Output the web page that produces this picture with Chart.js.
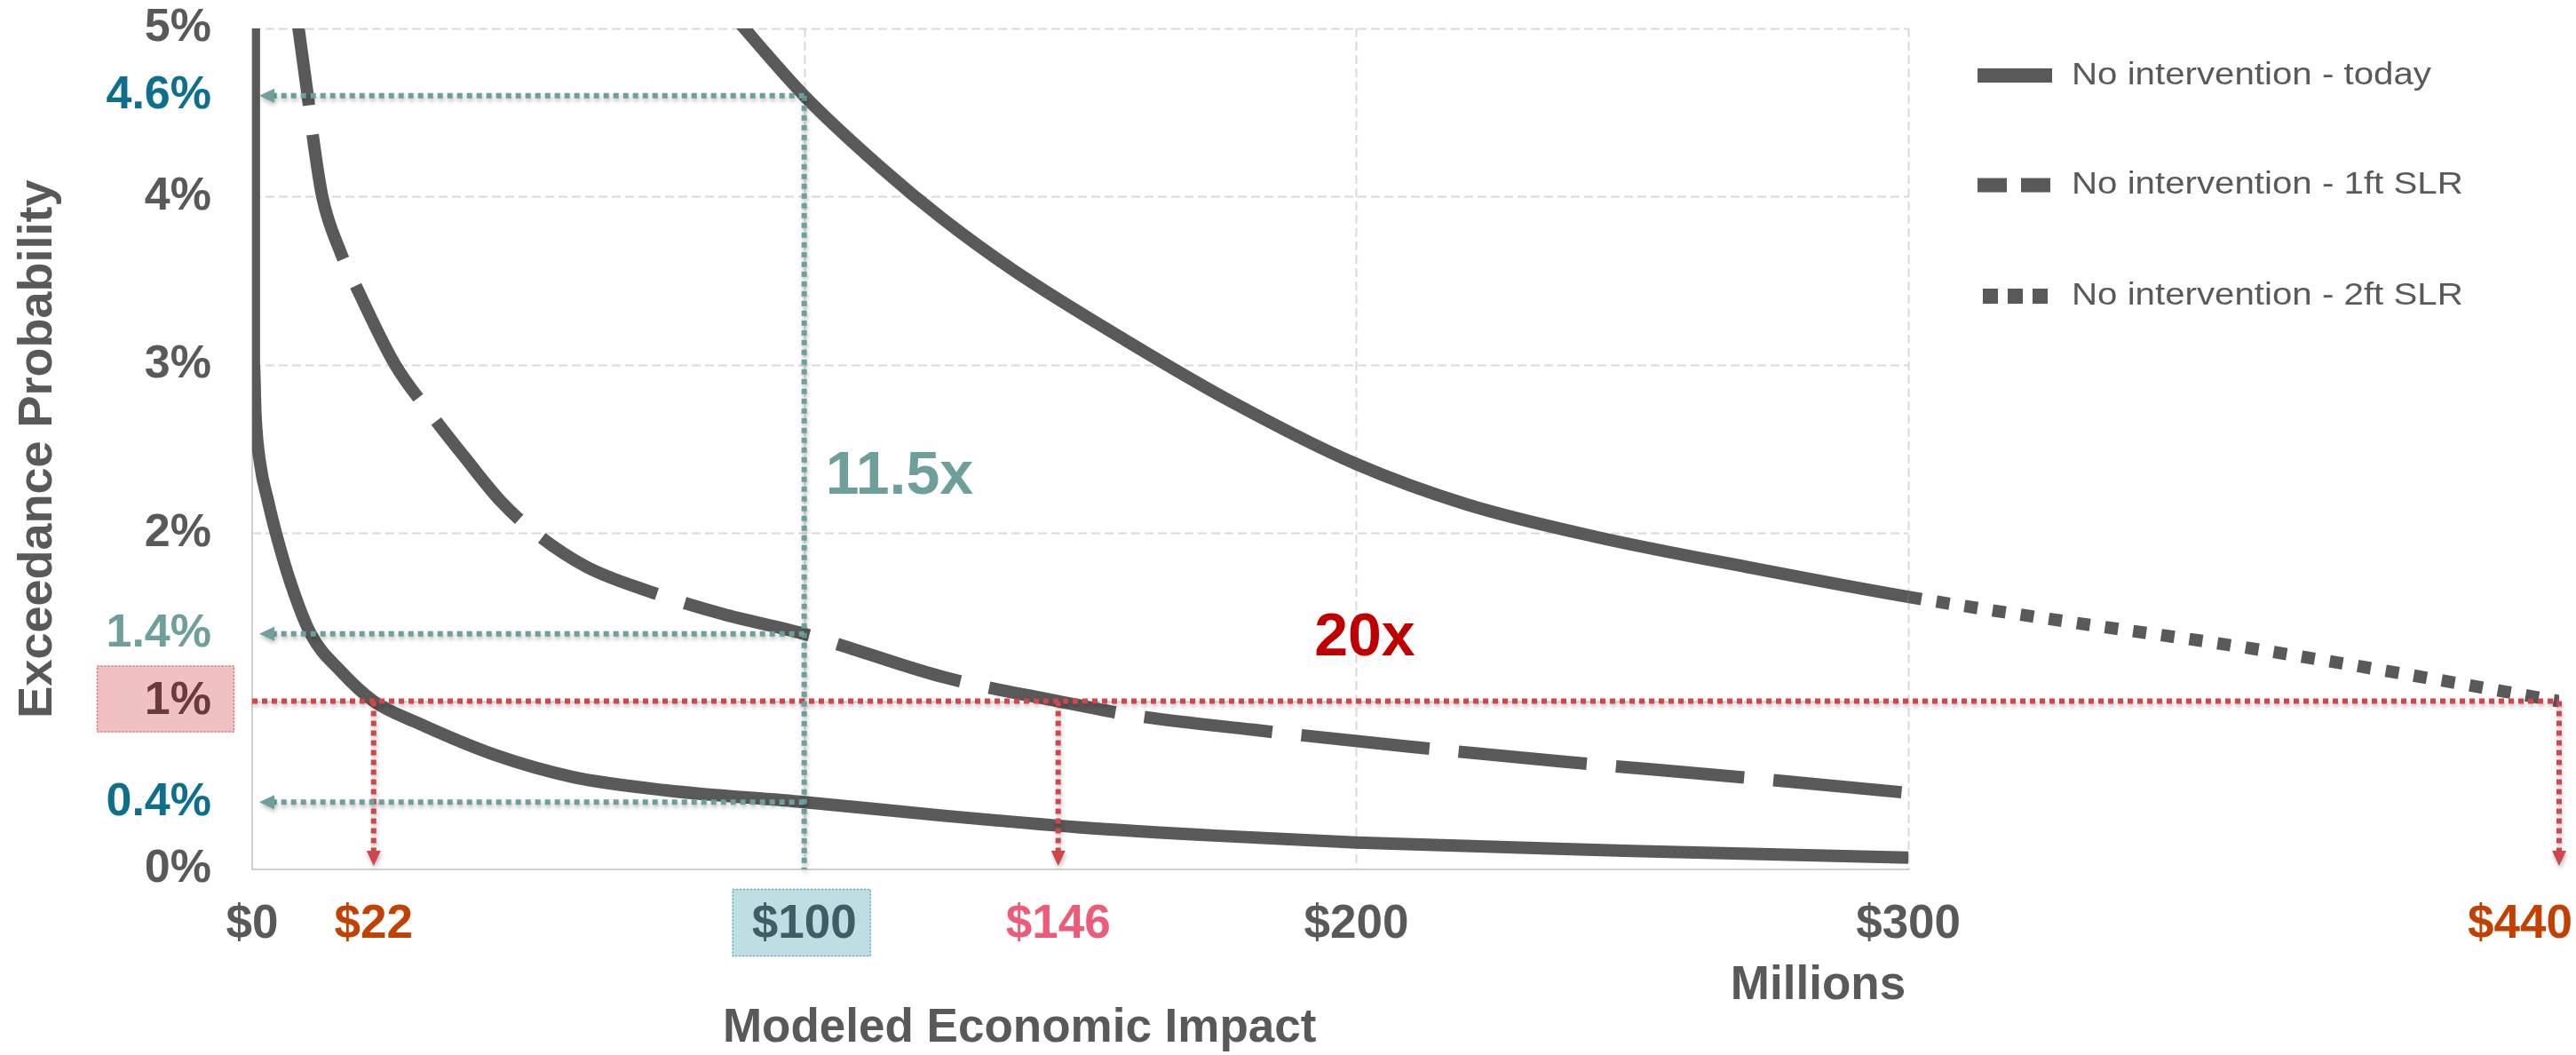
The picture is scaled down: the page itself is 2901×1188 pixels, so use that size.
<!DOCTYPE html>
<html>
<head>
<meta charset="utf-8">
<title>Exceedance probability vs modeled economic impact</title>
<script src="https://cdn.jsdelivr.net/npm/chart.js@4.4.1/dist/chart.umd.min.js"></script>
<style>
  html, body { margin: 0; padding: 0; background: #ffffff; }
  #wrap { width: 2901px; height: 1188px; }
</style>
</head>
<body>
<div id="wrap"><canvas id="chart" width="2901" height="1188"></canvas></div>
<script>
// ---- Exceedance curves: modeled impact ($M) vs annual exceedance probability (%) ----
const impactToday = [0.3, 0.3, 0.6, 1.5, 2.8, 4.3, 7, 10.6, 16, 22, 30, 44, 58, 75, 100, 125, 150, 175, 200, 250, 300];
const probToday   = [5.3, 3.0, 2.7, 2.4, 2.2, 2.0, 1.7, 1.4, 1.18, 1.0, 0.87, 0.68, 0.55, 0.47, 0.40, 0.32, 0.25, 0.20, 0.16, 0.11, 0.07];

const impact1ft = [7.2, 8.4, 10.1, 10.9, 12.7, 16.0, 18.2, 25.9, 32.3, 38.5, 45, 51.3, 60.5, 71.3, 85, 100, 106, 125.6, 146, 158.8, 181.4, 209.6, 237.7, 265.7, 300];
const prob1ft   = [5.3, 5.0, 4.59, 4.38, 4.0, 3.67, 3.51, 3.0, 2.71, 2.45, 2.19, 2.0, 1.80, 1.66, 1.52, 1.40, 1.34, 1.14, 1.0, 0.92, 0.83, 0.73, 0.64, 0.56, 0.455];

const impact2ft = [86, 100, 114, 125, 138, 158, 178, 200, 220, 243, 272, 300, 335, 370, 405, 440];
const prob2ft   = [5.12, 4.6, 4.17, 3.87, 3.56, 3.15, 2.77, 2.41, 2.17, 1.98, 1.79, 1.62, 1.47, 1.33, 1.17, 1.0];

const seriesNames = ['No intervention - today', 'No intervention - 1ft SLR', 'No intervention - 2ft SLR'];

// Axis ticks
const impactTicks = [0, 100, 200, 300];
const probTicks   = [0, 1, 2, 3, 4, 5];

// Call-outs: probabilities at a $100M loss, and losses at the 1% annual chance
const refImpact   = 100;
const probAtRef   = [4.6, 1.4, 0.4];      // 2ft SLR, 1ft SLR, today
const probLabels  = ['4.6%', '1.4%', '0.4%'];
const refProb     = 1;
const impactAtRef = [22, 146, 440];       // today, 1ft SLR, 2ft SLR
const impactLabels = ['$22', '$146', '$440'];
const ratioLabels = ['11.5x', '20x'];

// ---- styling ----
const FONT = "'Liberation Sans', Arial, Helvetica, sans-serif";
const GREY = '#595959';
const GRID = '#D9D9D9';
const AXIS = '#CFCFCF';
const TEAL_LINE = '#6E9F9B';
const TEAL_DARK = '#0E6F8C';
const RED_LINE = '#CF474C';
const ORANGE = '#C24000';
const PINK_TEXT = '#EE5B78';
const RATIO_RED = '#C00000';
const X_TICK_PAD = 36;
const Y_TICK_PAD = 46;

// Impact axis: linear up to $300M, then compressed out to $440M
const AXIS_BREAK = 300;
const BREAK_SHARE = 0.7179;

class BrokenLinearScale extends Chart.LinearScale {
  getPixelForValue(value) {
    if (value === null || value === undefined || isNaN(value)) return NaN;
    const min = this.min, max = this.max;
    const dec = value <= AXIS_BREAK
      ? (value - min) / (AXIS_BREAK - min) * BREAK_SHARE
      : BREAK_SHARE + (value - AXIS_BREAK) / (max - AXIS_BREAK) * (1 - BREAK_SHARE);
    return this.getPixelForDecimal(dec);
  }
  getValueForPixel(pixel) {
    const dec = this.getDecimalForPixel(pixel);
    return dec <= BREAK_SHARE
      ? this.min + dec / BREAK_SHARE * (AXIS_BREAK - this.min)
      : AXIS_BREAK + (dec - BREAK_SHARE) / (1 - BREAK_SHARE) * (this.max - AXIS_BREAK);
  }
}
BrokenLinearScale.id = 'brokenLinear';
BrokenLinearScale.defaults = Chart.LinearScale.defaults;
Chart.register(BrokenLinearScale);

const toPoints = (xs, ys) => xs.map((x, i) => ({ x: x, y: ys[i] }));

function dottedArrow(ctx, x1, y1, x2, y2, color, withHead) {
  const len = Math.hypot(x2 - x1, y2 - y1);
  const ux = (x2 - x1) / len, uy = (y2 - y1) / len;
  const hl = 17, hw = 8;
  const bx = x2 - ux * hl, by = y2 - uy * hl;
  ctx.save();
  ctx.shadowColor = 'rgba(0,0,0,0.28)';
  ctx.shadowBlur = 5;
  ctx.shadowOffsetX = 1;
  ctx.shadowOffsetY = 3;
  ctx.strokeStyle = color;
  ctx.lineWidth = 6;
  ctx.setLineDash([6, 5]);
  ctx.beginPath();
  ctx.moveTo(x1, y1);
  ctx.lineTo(withHead ? bx : x2, withHead ? by : y2);
  ctx.stroke();
  if (withHead) {
    ctx.setLineDash([]);
    ctx.fillStyle = color;
    ctx.beginPath();
    ctx.moveTo(x2, y2);
    ctx.lineTo(bx - uy * hw, by + ux * hw);
    ctx.lineTo(bx + uy * hw, by - ux * hw);
    ctx.closePath();
    ctx.fill();
  }
  ctx.restore();
}

function text(ctx, str, x, y, font, color, align) {
  ctx.save();
  ctx.font = font;
  ctx.fillStyle = color;
  ctx.textAlign = align || 'center';
  ctx.textBaseline = 'middle';
  ctx.fillText(str, x, y);
  ctx.restore();
}

function dottedBox(ctx, x, y, w, h, fill, stroke) {
  ctx.save();
  ctx.fillStyle = fill;
  ctx.fillRect(x, y, w, h);
  ctx.strokeStyle = stroke;
  ctx.lineWidth = 1.5;
  ctx.setLineDash([2, 2]);
  ctx.strokeRect(x + 0.5, y + 0.5, w - 1, h - 1);
  ctx.restore();
}

const decorations = {
  id: 'decorations',
  beforeDraw(chart) {
    const { ctx } = chart;
    const xs = chart.scales.x, ys = chart.scales.y;
    ctx.save();
    ctx.fillStyle = '#ffffff';
    ctx.fillRect(0, 0, chart.width, chart.height);
    ctx.restore();
    // highlight behind the 1% tick
    const y1 = ys.getPixelForValue(refProb);
    dottedBox(ctx, 109, y1 - 40, 155, 75, '#EFC1C1', '#D9777A');
    // highlight behind the $100 tick
    const x100 = xs.getPixelForValue(refImpact);
    dottedBox(ctx, x100 - 81, xs.top + 22, 156, 76, '#BFDEE4', '#6AAAB9');
  },
  beforeDatasetsDraw(chart) {
    const { ctx } = chart;
    const xs = chart.scales.x, ys = chart.scales.y;
    const left = xs.getPixelForValue(0), right = xs.getPixelForValue(AXIS_BREAK);
    const top = ys.getPixelForValue(5), bottom = ys.getPixelForValue(0);
    ctx.save();
    ctx.strokeStyle = GRID;
    ctx.lineWidth = 2;
    ctx.setLineDash([10, 5]);
    probTicks.filter(v => v > 0).forEach(v => {
      const y = Math.round(ys.getPixelForValue(v)) + 0.5;
      ctx.beginPath(); ctx.moveTo(left, y); ctx.lineTo(right, y); ctx.stroke();
    });
    impactTicks.filter(v => v > 0).forEach(v => {
      const x = Math.round(xs.getPixelForValue(v)) + 0.5;
      ctx.beginPath(); ctx.moveTo(x, top); ctx.lineTo(x, bottom); ctx.stroke();
    });
    ctx.setLineDash([]);
    ctx.strokeStyle = AXIS;
    ctx.beginPath();
    ctx.moveTo(left, top); ctx.lineTo(left, bottom); ctx.lineTo(right + 1, bottom);
    ctx.stroke();
    ctx.restore();
  },
  afterDatasetsDraw(chart) {
    const { ctx } = chart;
    const xs = chart.scales.x, ys = chart.scales.y;
    const x0 = xs.getPixelForValue(0), xRef = xs.getPixelForValue(refImpact);
    const yBase = ys.getPixelForValue(0), yRef = ys.getPixelForValue(refProb);
    // 1% annual chance line and drops to the impact axis
    dottedArrow(ctx, x0, yRef, xs.getPixelForValue(impactAtRef[2]), yRef, RED_LINE, false);
    impactAtRef.forEach(v => {
      const x = xs.getPixelForValue(v);
      dottedArrow(ctx, x, yRef, x, yBase - 4, RED_LINE, true);
    });
    // $100M line and reads across to the probability axis
    dottedArrow(ctx, xRef, ys.getPixelForValue(probAtRef[0]), xRef, yBase, TEAL_LINE, false);
    probAtRef.forEach(p => {
      const y = ys.getPixelForValue(p);
      dottedArrow(ctx, xRef, y, x0 + 8, y, TEAL_LINE, true);
    });
  },
  afterDraw(chart) {
    const { ctx } = chart;
    const xs = chart.scales.x, ys = chart.scales.y;
    const bold52 = 'bold 52px ' + FONT;
    const bold53 = 'bold 53px ' + FONT;
    const bold68 = 'bold 68px ' + FONT;
    // probability call-outs
    const yLabelX = ys.right - Y_TICK_PAD;
    const probColors = [TEAL_DARK, TEAL_LINE, TEAL_DARK];
    probAtRef.forEach((p, i) => text(ctx, probLabels[i], yLabelX, ys.getPixelForValue(p), bold52, probColors[i], 'right'));
    // impact call-outs
    const xLabelY = xs.top + X_TICK_PAD + 26.5;
    const impactColors = [ORANGE, PINK_TEXT, ORANGE];
    impactAtRef.forEach((v, i) => {
      const x = xs.getPixelForValue(v);
      ctx.save();
      ctx.font = bold53;
      const w = ctx.measureText(impactLabels[i]).width;
      ctx.restore();
      if (x + w / 2 > chart.width - 4) {
        text(ctx, impactLabels[i], chart.width - 4, xLabelY, bold53, impactColors[i], 'right');
      } else {
        text(ctx, impactLabels[i], x, xLabelY, bold53, impactColors[i], 'center');
      }
    });
    // ratios
    text(ctx, ratioLabels[0], xs.getPixelForValue(refImpact) + 24, ys.getPixelForValue(2.33), bold68, TEAL_LINE, 'left');
    text(ctx, ratioLabels[1], xs.getPixelForValue(192.4), ys.getPixelForValue(1.37), bold68, RATIO_RED, 'left');
    // axis titles
    text(ctx, 'Millions', xs.getPixelForValue(AXIS_BREAK) - 3, 1110, bold53, GREY, 'right');
    text(ctx, 'Modeled Economic Impact', xs.getPixelForValue(139), 1158, bold53, GREY, 'center');
    // legend
    const rows = [85, 208.5, 333.5];
    const lx0 = 2227, lx1 = 2311, tx = 2333;
    const dashes = [[], [33, 16], [17, 11]];
    const starts = [lx0, lx0, lx0 + 6];
    rows.forEach((y, i) => {
      ctx.save();
      ctx.strokeStyle = GREY;
      ctx.lineWidth = i === 2 ? 17 : 16;
      ctx.lineCap = 'butt';
      ctx.setLineDash(dashes[i]);
      ctx.beginPath();
      ctx.moveTo(starts[i], y);
      ctx.lineTo(i === 2 ? lx1 - 5 : lx1, y);
      ctx.stroke();
      ctx.restore();
      ctx.save();
      ctx.translate(tx, y);
      ctx.scale(1.15, 1);
      ctx.font = '35px ' + FONT;
      ctx.fillStyle = GREY;
      ctx.textAlign = 'left';
      ctx.textBaseline = 'middle';
      ctx.fillText(seriesNames[i], 0, 0);
      ctx.restore();
    });
  }
};

const lineStyle = {
  borderColor: GREY,
  backgroundColor: GREY,
  borderWidth: 14,
  pointRadius: 0,
  pointHoverRadius: 0,
  fill: false,
  cubicInterpolationMode: 'monotone',
  clip: 0
};

new Chart(document.getElementById('chart'), {
  type: 'line',
  data: {
    datasets: [
      Object.assign({ label: seriesNames[0], data: toPoints(impactToday, probToday) }, lineStyle),
      Object.assign({ label: seriesNames[1], data: toPoints(impact1ft, prob1ft), borderDash: [145, 33] }, lineStyle),
      Object.assign({
        label: seriesNames[2],
        data: toPoints(impact2ft, prob2ft),
        segment: { borderDash: c => (c.p0.parsed.x >= AXIS_BREAK ? [15, 17] : undefined) }
      }, lineStyle)
    ]
  },
  options: {
    responsive: false,
    animation: false,
    devicePixelRatio: 1,
    layout: { padding: { top: 32, right: 19, bottom: 0, left: 0 } },
    plugins: {
      legend: { display: false },
      tooltip: { enabled: false }
    },
    scales: {
      x: {
        type: 'brokenLinear',
        min: 0,
        max: 440,
        afterBuildTicks: s => { s.ticks = impactTicks.map(v => ({ value: v })); },
        afterFit: s => { s.height = 1188 - 979; s.paddingLeft = 0; s.paddingRight = 0; },
        grid: { display: false, drawTicks: false },
        border: { display: false },
        ticks: {
          autoSkip: false,
          maxRotation: 0,
          padding: X_TICK_PAD,
          font: { family: FONT, size: 53, weight: 'bold', lineHeight: 1 },
          color: c => (c.tick && c.tick.value === refImpact ? '#3E5D65' : GREY),
          callback: v => '$' + v
        },
        title: { display: false }
      },
      y: {
        type: 'linear',
        min: 0,
        max: 5,
        afterBuildTicks: s => { s.ticks = probTicks.map(v => ({ value: v })); },
        afterFit: s => { s.width = 284; s.paddingTop = 0; s.paddingBottom = 0; },
        grid: { display: false, drawTicks: false },
        border: { display: false },
        ticks: {
          padding: Y_TICK_PAD,
          font: { family: FONT, size: 52, weight: 'bold', lineHeight: 1 },
          color: c => (c.tick && c.tick.value === refProb ? '#6B3A3B' : GREY),
          callback: v => v + '%'
        },
        title: {
          display: true,
          text: 'Exceedance Probability',
          color: GREY,
          font: { family: FONT, size: 54, weight: 'bold', lineHeight: 1.2 },
          padding: { top: 11, bottom: 0 }
        }
      }
    }
  },
  plugins: [decorations]
});
</script>
</body>
</html>
